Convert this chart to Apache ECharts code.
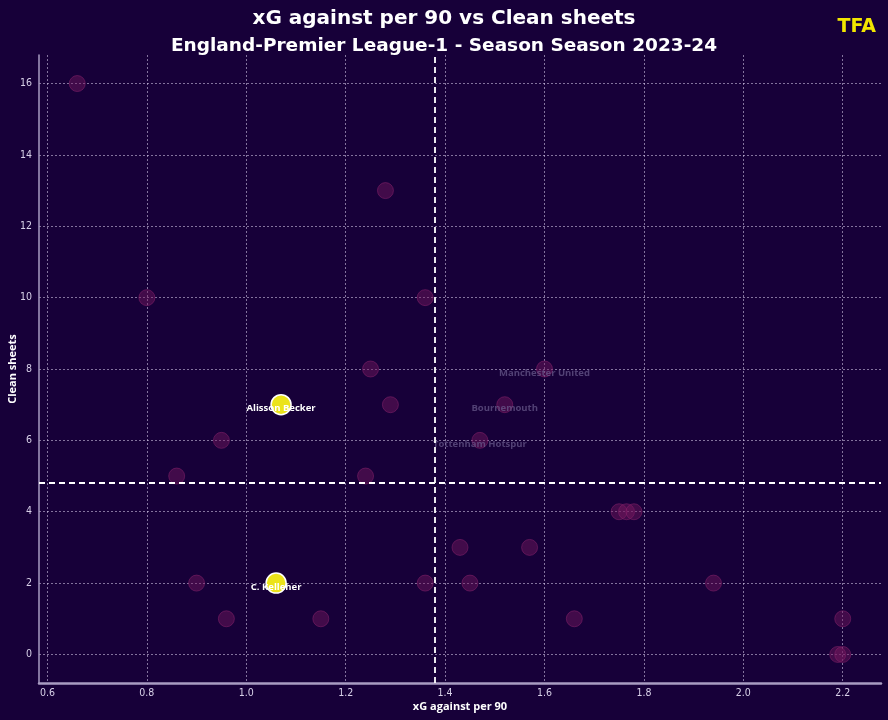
<!DOCTYPE html>
<html><head><meta charset="utf-8">
<script src="https://cdn.jsdelivr.net/npm/echarts@6/dist/echarts.min.js"></script>
<style>html,body{margin:0;padding:0;background:#170039;}#c{width:888px;height:720px;}</style>
</head><body><div id="c"></div>
<script>
// Other goalkeepers: xG against per 90 and clean sheets
const xgOthers = [0.66, 1.28, 0.80, 1.36, 1.25, 1.60, 1.29, 1.52, 0.95, 1.47, 0.86, 1.24, 1.75, 1.765, 1.78, 1.43, 1.57, 0.90, 1.36, 1.45, 1.94, 0.96, 1.15, 1.66, 2.20, 2.19, 2.20];
const csOthers = [16, 13, 10, 10, 8, 8, 7, 7, 6, 6, 5, 5, 4, 4, 4, 3, 3, 2, 2, 2, 2, 1, 1, 1, 1, 0, 0];
// Highlighted keepers
const hlNames = ['Alisson Becker', 'C. Kelleher'];
const hlXg = [1.07, 1.06];
const hlCs = [7, 2];
// Team labels
const teamNames = ['Manchester United', 'Bournemouth', 'Tottenham Hotspur'];
const teamXg = [1.60, 1.52, 1.47];
const teamCs = [8, 7, 6];
// Reference (average) lines
const meanXg = 1.383;
const meanCs = 4.82;
// Ticks
const xTicks = [0.6, 0.8, 1.0, 1.2, 1.4, 1.6, 1.8, 2.0, 2.2];
const yTicks = [0, 2, 4, 6, 8, 10, 12, 14, 16];

const chart = echarts.init(document.getElementById('c'));
const gridLine = {show: true, lineStyle: {color: 'rgba(220,210,240,0.55)', type: [2, 2], width: 1}};
chart.setOption({
  backgroundColor: '#170039',
  animation: false,
  title: [
    {text: 'xG against per 90 vs Clean sheets', left: 'center', top: 4,
     textStyle: {color: '#ffffff', fontSize: 20, fontWeight: 'bold', fontFamily: 'DejaVu Sans'}},
    {text: 'England-Premier League-1 - Season Season 2023-24', left: 'center', top: 32,
     textStyle: {color: '#ffffff', fontSize: 18.5, fontWeight: 'bold', fontFamily: 'DejaVu Sans'}},
    {text: 'TFA', right: 7, top: 13,
     textStyle: {color: '#f2e600', fontSize: 19, fontWeight: 900, fontFamily: 'DejaVu Sans'}}
  ],
  grid: {left: 39, right: 7, top: 55, bottom: 37, outerBoundsMode: 'none', containLabel: false},
  xAxis: {
    type: 'value', min: 0.583, max: 2.277,
    name: 'xG against per 90', nameLocation: 'middle', nameGap: 18, nameMoveOverlap: false,
    nameTextStyle: {color: '#ffffff', fontSize: 11, fontWeight: 'bold', fontFamily: 'Open Sans'},
    axisLine: {show: true, onZero: false, lineStyle: {color: '#a99cc2', width: 2.5}},
    axisTick: {show: false, customValues: xTicks},
    axisLabel: {customValues: xTicks, color: '#d8d0e8', fontSize: 10.5, fontFamily: 'DejaVu Sans Condensed, DejaVu Sans', margin: 5,
      formatter: v => v.toFixed(1)},
    splitLine: gridLine
  },
  yAxis: {
    type: 'value', min: -0.8, max: 16.8,
    name: 'Clean sheets', nameLocation: 'middle', nameGap: 21, nameMoveOverlap: false,
    nameTextStyle: {color: '#ffffff', fontSize: 11, fontWeight: 'bold', fontFamily: 'Open Sans'},
    axisLine: {show: true, onZero: false, lineStyle: {color: '#a99cc2', width: 1.5}},
    axisTick: {show: false, customValues: yTicks},
    axisLabel: {customValues: yTicks, color: '#d8d0e8', fontSize: 10.5, fontFamily: 'DejaVu Sans Condensed, DejaVu Sans', margin: 7},
    splitLine: gridLine
  },
  series: [
    {
      type: 'scatter', symbolSize: 16, z: 3,
      data: xgOthers.map((x, i) => [x, csOthers[i]]),
      itemStyle: {opacity: 1, color: 'rgba(120,25,95,0.45)', borderColor: 'rgba(140,35,110,0.5)', borderWidth: 1,
        decal: {symbol: 'rect', dashArrayX: [1, 0], dashArrayY: [1, 3], rotation: -Math.PI / 4, color: 'rgba(160,60,130,0.35)'}},
      markLine: {
        silent: true, symbol: 'none', label: {show: false},
        lineStyle: {color: '#ffffff', type: [6, 4], width: 1.8},
        data: [{xAxis: meanXg}, {yAxis: meanCs}]
      }
    },
    {
      type: 'scatter', symbolSize: 1, z: 4,
      data: teamXg.map((x, i) => ({value: [x, teamCs[i]], name: teamNames[i]})),
      itemStyle: {color: 'rgba(0,0,0,0)'},
      label: {show: true, position: 'inside', offset: [0, 4], formatter: p => p.name,
        color: 'rgba(110,95,145,0.85)', fontSize: 9.5, fontWeight: 'bold', fontFamily: 'Open Sans'}
    },
    {
      type: 'scatter', symbolSize: 20, z: 5,
      data: hlXg.map((x, i) => ({value: [x, hlCs[i]], name: hlNames[i]})),
      itemStyle: {opacity: 1, color: '#ebe31a', borderColor: '#ffffff', borderWidth: 1.5},
      label: {show: true, position: 'inside', offset: [0, 4], formatter: p => p.name,
        color: '#ffffff', fontSize: 9.5, fontWeight: 'bold', fontFamily: 'Open Sans'}
    }
  ]
});
</script></body></html>
